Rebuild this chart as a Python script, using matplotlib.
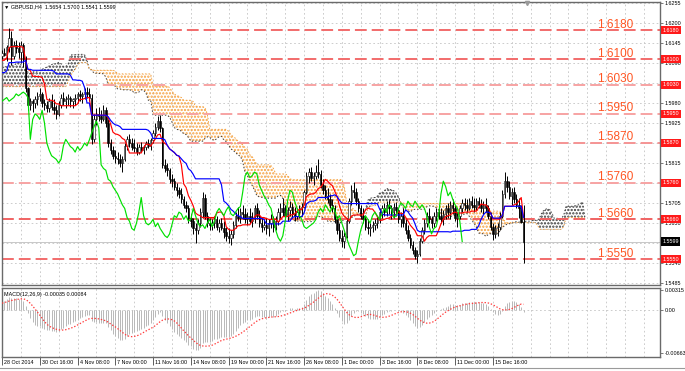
import numpy as np
import pandas as pd
import matplotlib

matplotlib.use("Agg")
import matplotlib.pyplot as plt
from matplotlib.transforms import blended_transform_factory

W, H, DPI = 685, 371, 100
plt.rcParams["lines.scale_dashes"] = False
plt.rcParams["hatch.linewidth"] = 1.1

# GBPUSD H4, 15-27 Oct 2014 (52 bars before the visible window, only feeds the indicators)
PRE_HIGH = [1.5960, 1.5935, 1.5910, 1.5945, 1.5975, 1.5985, 1.6010, 1.6030, 1.6045, 1.6050,
            1.6060, 1.6055, 1.6075, 1.6090, 1.6105, 1.6095, 1.6110, 1.6120, 1.6115, 1.6130,
            1.6145, 1.6135, 1.6150, 1.6165, 1.6175, 1.6185, 1.6160, 1.6130, 1.6105, 1.6080,
            1.6060, 1.6045, 1.6030, 1.6045, 1.6055, 1.6040, 1.6035, 1.6050, 1.6065, 1.6080,
            1.6090, 1.6075, 1.6095, 1.6110, 1.6120, 1.6105, 1.6100, 1.6115, 1.6130, 1.6120,
            1.6125, 1.6115]
PRE_LOW = [1.5920, 1.5880, 1.5865, 1.5890, 1.5925, 1.5945, 1.5960, 1.5985, 1.6005, 1.6010,
           1.6020, 1.6015, 1.6035, 1.6050, 1.6060, 1.6045, 1.6070, 1.6080, 1.6075, 1.6090,
           1.6100, 1.6095, 1.6110, 1.6125, 1.6135, 1.6140, 1.6110, 1.6085, 1.6060, 1.6035,
           1.6020, 1.6005, 1.5997, 1.6005, 1.6015, 1.6000, 1.6000, 1.6015, 1.6025, 1.6040,
           1.6050, 1.6040, 1.6055, 1.6070, 1.6080, 1.6065, 1.6068, 1.6080, 1.6090, 1.6085,
           1.6090, 1.6085]
PRE_CLOSE = [1.5930, 1.5890, 1.5900, 1.5935, 1.5960, 1.5970, 1.6000, 1.6020, 1.6030, 1.6040,
             1.6035, 1.6045, 1.6065, 1.6080, 1.6070, 1.6085, 1.6100, 1.6095, 1.6105, 1.6120,
             1.6110, 1.6125, 1.6140, 1.6155, 1.6160, 1.6150, 1.6120, 1.6095, 1.6070, 1.6045,
             1.6030, 1.6015, 1.6020, 1.6035, 1.6025, 1.6010, 1.6025, 1.6040, 1.6055, 1.6070,
             1.6060, 1.6065, 1.6085, 1.6100, 1.6090, 1.6080, 1.6090, 1.6105, 1.6100, 1.6110,
             1.6100, 1.6110]

# visible bars, 28 Oct 2014 00:00 onwards
HIGH = [1.6125, 1.6130, 1.6140, 1.6185, 1.6178, 1.6150, 1.6152, 1.6148, 1.6150, 1.6145,
        1.6110, 1.6025, 1.5995, 1.5990, 1.6000, 1.6010, 1.6020, 1.6010, 1.5990, 1.5985,
        1.5995, 1.6005, 1.5990, 1.5975, 1.5985, 1.6005, 1.6010, 1.6000, 1.6005, 1.6000,
        1.5995, 1.6005, 1.6010, 1.6015, 1.6010, 1.6020, 1.6025, 1.6020, 1.6005, 1.5950,
        1.5965, 1.5970, 1.5960, 1.5975, 1.5968, 1.5935, 1.5880, 1.5862, 1.5850, 1.5845,
        1.5840, 1.5835, 1.5870, 1.5890, 1.5895, 1.5885, 1.5880, 1.5870, 1.5868, 1.5872,
        1.5865, 1.5875, 1.5880, 1.5885, 1.5905, 1.5925, 1.5945, 1.5948, 1.5915, 1.5825,
        1.5815, 1.5800, 1.5785, 1.5775, 1.5760, 1.5750, 1.5745, 1.5725, 1.5710, 1.5700,
        1.5675, 1.5665, 1.5650, 1.5660, 1.5690, 1.5735, 1.5730, 1.5680, 1.5665, 1.5660,
        1.5670, 1.5668, 1.5660, 1.5665, 1.5655, 1.5640, 1.5635, 1.5630, 1.5655, 1.5680,
        1.5695, 1.5690, 1.5700, 1.5690, 1.5680, 1.5690, 1.5680, 1.5700, 1.5705, 1.5685,
        1.5665, 1.5660, 1.5665, 1.5660, 1.5675, 1.5670, 1.5668, 1.5690, 1.5705, 1.5720,
        1.5700, 1.5695, 1.5710, 1.5705, 1.5695, 1.5690, 1.5700, 1.5705, 1.5740, 1.5790,
        1.5800, 1.5805, 1.5790, 1.5810, 1.5825, 1.5795, 1.5770, 1.5755, 1.5745, 1.5730,
        1.5715, 1.5700, 1.5670, 1.5650, 1.5630, 1.5625, 1.5665, 1.5720, 1.5755, 1.5762,
        1.5745, 1.5720, 1.5700, 1.5690, 1.5670, 1.5660, 1.5650, 1.5655, 1.5660, 1.5670,
        1.5690, 1.5700, 1.5705, 1.5710, 1.5712, 1.5700, 1.5705, 1.5708, 1.5690, 1.5680,
        1.5690, 1.5660, 1.5645, 1.5620, 1.5600, 1.5585, 1.5575, 1.5610, 1.5640, 1.5660,
        1.5680, 1.5690, 1.5670, 1.5680, 1.5690, 1.5700, 1.5690, 1.5685, 1.5700, 1.5705,
        1.5710, 1.5715, 1.5700, 1.5680, 1.5700, 1.5715, 1.5720, 1.5715, 1.5720, 1.5725,
        1.5718, 1.5720, 1.5722, 1.5715, 1.5710, 1.5718, 1.5700, 1.5680, 1.5650, 1.5645,
        1.5650, 1.5680, 1.5740, 1.5790, 1.5780, 1.5765, 1.5745, 1.5750, 1.5730, 1.5720,
        1.5700, 1.5700]
LOW = [1.6100, 1.6108, 1.6095, 1.6120, 1.6085, 1.6100, 1.6118, 1.6105, 1.6090, 1.6080,
       1.6010, 1.5960, 1.5960, 1.5955, 1.5965, 1.5975, 1.5985, 1.5970, 1.5960, 1.5955,
       1.5955, 1.5960, 1.5950, 1.5935, 1.5945, 1.5965, 1.5975, 1.5965, 1.5975, 1.5970,
       1.5965, 1.5975, 1.5980, 1.5985, 1.5980, 1.5990, 1.5995, 1.5985, 1.5868, 1.5872,
       1.5920, 1.5930, 1.5925, 1.5930, 1.5915, 1.5860, 1.5840, 1.5825, 1.5815, 1.5812,
       1.5805, 1.5790, 1.5820, 1.5850, 1.5860, 1.5850, 1.5845, 1.5838, 1.5840, 1.5845,
       1.5840, 1.5850, 1.5855, 1.5850, 1.5870, 1.5890, 1.5905, 1.5900, 1.5800, 1.5790,
       1.5780, 1.5760, 1.5750, 1.5740, 1.5725, 1.5720, 1.5705, 1.5690, 1.5680, 1.5650,
       1.5640, 1.5620, 1.5595, 1.5620, 1.5640, 1.5665, 1.5660, 1.5640, 1.5630, 1.5630,
       1.5635, 1.5630, 1.5625, 1.5630, 1.5610, 1.5600, 1.5595, 1.5590, 1.5610, 1.5635,
       1.5655, 1.5650, 1.5660, 1.5650, 1.5645, 1.5650, 1.5640, 1.5650, 1.5660, 1.5640,
       1.5625, 1.5630, 1.5620, 1.5615, 1.5635, 1.5625, 1.5630, 1.5645, 1.5665, 1.5670,
       1.5660, 1.5655, 1.5670, 1.5665, 1.5655, 1.5660, 1.5665, 1.5670, 1.5690, 1.5730,
       1.5760, 1.5765, 1.5755, 1.5770, 1.5775, 1.5745, 1.5730, 1.5715, 1.5705, 1.5690,
       1.5680, 1.5650, 1.5620, 1.5600, 1.5585, 1.5582, 1.5610, 1.5650, 1.5700, 1.5720,
       1.5700, 1.5680, 1.5660, 1.5650, 1.5630, 1.5620, 1.5615, 1.5625, 1.5630, 1.5635,
       1.5650, 1.5665, 1.5670, 1.5670, 1.5675, 1.5660, 1.5665, 1.5670, 1.5650, 1.5640,
       1.5640, 1.5620, 1.5600, 1.5580, 1.5565, 1.5550, 1.5540, 1.5560, 1.5595, 1.5620,
       1.5640, 1.5650, 1.5635, 1.5640, 1.5655, 1.5660, 1.5650, 1.5645, 1.5660, 1.5665,
       1.5660, 1.5675, 1.5655, 1.5640, 1.5660, 1.5680, 1.5685, 1.5680, 1.5685, 1.5690,
       1.5680, 1.5685, 1.5690, 1.5680, 1.5675, 1.5680, 1.5660, 1.5630, 1.5602, 1.5610,
       1.5615, 1.5630, 1.5665, 1.5720, 1.5735, 1.5715, 1.5700, 1.5705, 1.5690, 1.5665,
       1.5650, 1.5541]
CLOSE = [1.6118, 1.6112, 1.6135, 1.6160, 1.6110, 1.6140, 1.6130, 1.6120, 1.6140, 1.6100,
         1.6020, 1.5975, 1.5985, 1.5980, 1.5990, 1.6000, 1.6005, 1.5980, 1.5975, 1.5965,
         1.5985, 1.5970, 1.5960, 1.5950, 1.5975, 1.5995, 1.5985, 1.5990, 1.5995, 1.5985,
         1.5990, 1.5995, 1.6005, 1.6000, 1.6005, 1.6010, 1.6005, 1.5995, 1.5880, 1.5935,
         1.5950, 1.5945, 1.5935, 1.5960, 1.5925, 1.5870, 1.5850, 1.5835, 1.5830, 1.5825,
         1.5815, 1.5825, 1.5862, 1.5880, 1.5870, 1.5860, 1.5855, 1.5845, 1.5860, 1.5850,
         1.5858, 1.5870, 1.5862, 1.5878, 1.5898, 1.5915, 1.5930, 1.5912, 1.5810, 1.5800,
         1.5795, 1.5770, 1.5765, 1.5750, 1.5740, 1.5730, 1.5715, 1.5700, 1.5690, 1.5665,
         1.5655, 1.5635, 1.5630, 1.5650, 1.5680, 1.5720, 1.5670, 1.5650, 1.5645, 1.5650,
         1.5660, 1.5640, 1.5650, 1.5635, 1.5625, 1.5615, 1.5610, 1.5620, 1.5645, 1.5670,
         1.5665, 1.5680, 1.5675, 1.5660, 1.5670, 1.5655, 1.5660, 1.5690, 1.5670, 1.5650,
         1.5640, 1.5645, 1.5635, 1.5650, 1.5660, 1.5640, 1.5655, 1.5680, 1.5690, 1.5680,
         1.5670, 1.5685, 1.5695, 1.5675, 1.5670, 1.5680, 1.5690, 1.5695, 1.5735, 1.5780,
         1.5790, 1.5775, 1.5780, 1.5790, 1.5785, 1.5755, 1.5740, 1.5725, 1.5715, 1.5700,
         1.5690, 1.5660, 1.5630, 1.5610, 1.5600, 1.5615, 1.5655, 1.5710, 1.5740, 1.5735,
         1.5710, 1.5690, 1.5670, 1.5660, 1.5640, 1.5635, 1.5640, 1.5645, 1.5650, 1.5660,
         1.5680, 1.5690, 1.5680, 1.5700, 1.5690, 1.5680, 1.5695, 1.5685, 1.5660, 1.5670,
         1.5650, 1.5630, 1.5610, 1.5590, 1.5575, 1.5560, 1.5565, 1.5600, 1.5630, 1.5650,
         1.5670, 1.5660, 1.5650, 1.5670, 1.5680, 1.5670, 1.5660, 1.5675, 1.5690, 1.5680,
         1.5700, 1.5690, 1.5665, 1.5670, 1.5690, 1.5705, 1.5700, 1.5690, 1.5710, 1.5700,
         1.5695, 1.5710, 1.5700, 1.5690, 1.5700, 1.5690, 1.5670, 1.5640, 1.5620, 1.5635,
         1.5640, 1.5670, 1.5730, 1.5765, 1.5750, 1.5725, 1.5735, 1.5715, 1.5700, 1.5690,
         1.5654, 1.5599]

LEVELS = [1.6180, 1.6100, 1.6030, 1.5950, 1.5870, 1.5760, 1.5660, 1.5550]
LEVEL_COLORS = ["#f26b6b", "#f26b6b", "#f7a3a3", "#f7a3a3", "#f59494", "#f7a3a3", "#f06262", "#f26b6b"]
# right-scale ticks; those fully covered by a level box are drawn as ticks only
PRICE_TICKS = [1.6255, 1.6200, 1.6145, 1.6090, 1.6035, 1.5980, 1.5925, 1.5870,
               1.5815, 1.5760, 1.5705, 1.5650, 1.5595, 1.5540, 1.5485]
HIDDEN_TICKS = [1.6035, 1.5870, 1.5760, 1.5595]
DATE_BARS = [0, 16, 32, 48, 64, 80, 96, 112, 128, 144, 160, 176, 192, 208]
DATE_LABELS = ["28 Oct 2014", "30 Oct 16:00", "4 Nov 08:00", "7 Nov 00:00", "11 Nov 16:00",
               "14 Nov 08:00", "19 Nov 00:00", "21 Nov 16:00", "26 Nov 08:00", "1 Dec 00:00",
               "3 Dec 16:00", "8 Dec 08:00", "11 Dec 00:00", "15 Dec 16:00"]
MACD_TICKS = [0.00315, 0.0, -0.00663]
MACD_TICK_LABELS = ["0.00315", "0.00", "-0.00663"]
LAST_PRICE = 1.5599
TITLE = "\u25bc GBPUSD,H4  1.5654 1.5700 1.5541 1.5599"
MACD_TITLE = "MACD(12,26,9) -0.00035 0.00084"

assert len(HIGH) == len(LOW) == len(CLOSE)
assert len(PRE_HIGH) == len(PRE_LOW) == len(PRE_CLOSE)

SMALL = ["Liberation Sans", "DejaVu Sans"]
SMALL_SIZE = 3.9
GRID = dict(color="#c4c4c4", lw=0.6, ls=(0, (1.2, 1.8)), zorder=0.5)

# indicators (Ichimoku 9/26/52, MACD 12/26/9) from the full series
n_pre = len(PRE_CLOSE)
hi = pd.Series(PRE_HIGH + HIGH)
lo = pd.Series(PRE_LOW + LOW)
cl = pd.Series(PRE_CLOSE + CLOSE)
bar_all = np.arange(len(cl)) - n_pre


def midpoint(n):
    return (hi.rolling(n, min_periods=1).max() + lo.rolling(n, min_periods=1).min()) / 2


tenkan = midpoint(9)
kijun = midpoint(26)
span_a = ((tenkan + kijun) / 2).to_numpy()
span_b = midpoint(52).to_numpy()
macd = cl.ewm(span=12, adjust=False).mean() - cl.ewm(span=26, adjust=False).mean()
signal = macd.rolling(9, min_periods=1).mean()

vis = bar_all >= 0
x = bar_all[vis]
high = np.array(HIGH)
low = np.array(LOW)
close = np.array(CLOSE)
opens = np.r_[PRE_CLOSE[-1], close[:-1]]

fig = plt.figure(figsize=(W / DPI, H / DPI), dpi=DPI, facecolor="white")


def px_box(x0, y0, x1, y1):
    return [x0 / W, 1 - y1 / H, (x1 - x0) / W, (y1 - y0) / H]


ax = fig.add_axes(px_box(1.5, 2, 660, 285))
axm = fig.add_axes(px_box(1.5, 287.5, 660, 357))
XLIM = ((1.5 - 2) / 2.36, (660 - 2) / 2.36)
for a in (ax, axm):
    a.set_xlim(*XLIM)
    for s in a.spines.values():
        s.set_color("#6a6a6a")
        s.set_linewidth(1.0)
ax.set_ylim(1.6255 - 282 * 0.000275, 1.6255 + 0.000275)
axm.set_ylim(0.00315 - 67 * 0.0001552, 0.00315 + 2.5 * 0.0001552)

# grid
grid_bars = np.arange(0, 280, 8)
for a in (ax, axm):
    for g in grid_bars:
        a.axvline(g, **GRID)
for p in PRICE_TICKS:
    ax.axhline(p, **GRID)
axm.axhline(0.0, **GRID)

# cloud
xs = bar_all + 26
a_ge = span_a >= span_b
ax.fill_between(xs, span_a, span_b, where=a_ge, interpolate=True, facecolor="none",
                edgecolor="#3a3a3a", hatch=".....", linewidth=0, zorder=1)
ax.fill_between(xs, span_a, span_b, where=~a_ge, interpolate=True, facecolor="none",
                edgecolor="#f5a03c", hatch=".....", linewidth=0, zorder=1)
ax.plot(xs, span_a, color="#3a3a3a", lw=0.7, ls=(0, (1, 1.4)), zorder=1.2)
ax.plot(xs, span_b, color="#f5a03c", lw=0.7, ls=(0, (1, 1.4)), zorder=1.2)

# levels
for lvl, c in zip(LEVELS, LEVEL_COLORS):
    ax.axhline(lvl, color=c, lw=1.4, dashes=(8.5, 3.6), zorder=2)
    ax.text(252.2, lvl + 2.5 * 0.000275, f"{lvl:.4f}", color="#ff5522", fontsize=8.5,
            family=["Liberation Sans", "DejaVu Sans"], ha="left", va="baseline", zorder=7)
ax.axhline(LAST_PRICE, color="#c8c8c8", lw=0.7, zorder=1.5)

# candles
up = close >= opens
body_lo = np.minimum(opens, close)
body_h = np.maximum(np.abs(close - opens), 0.00004)
ax.vlines(x, low, high, color="black", lw=0.7, zorder=4)
ax.bar(x[~up], body_h[~up], bottom=body_lo[~up], width=0.62, color="black",
       edgecolor="black", lw=0.4, zorder=5)
ax.bar(x[up], body_h[up], bottom=body_lo[up], width=0.62, color="white",
       edgecolor="black", lw=0.4, zorder=5)

# ichimoku lines
ax.plot(x, tenkan[vis], color="#ff0000", lw=0.85, zorder=6)
ax.plot(x, kijun[vis], color="#0000ff", lw=0.85, zorder=6)
ax.plot(x - 26, close, color="#00e000", lw=0.85, zorder=6)

# right price scale
ax.yaxis.tick_right()
ax.set_yticks(PRICE_TICKS)
ax.set_yticklabels(["" if p in HIDDEN_TICKS else f"{p:.4f}" for p in PRICE_TICKS], family=SMALL)
ax.tick_params(axis="y", length=2, width=0.5, pad=1.5, labelsize=SMALL_SIZE, color="#444444")
ax.set_xticks([])
right = blended_transform_factory(ax.transAxes, ax.transData)
for lvl in LEVELS:
    ax.text(1.0035, lvl, f"{lvl:.4f}", transform=right, fontsize=SMALL_SIZE, family=SMALL,
            color="white", ha="left", va="center", clip_on=False, zorder=8,
            bbox=dict(boxstyle="square,pad=0.3", fc="#ff1a1a", ec="none"))
ax.text(1.0035, LAST_PRICE, f"{LAST_PRICE:.4f}", transform=right, fontsize=SMALL_SIZE,
        family=SMALL, color="white", ha="left", va="center", clip_on=False, zorder=8,
        bbox=dict(boxstyle="square,pad=0.3", fc="black", ec="none"))
ax.plot([222.5], [1.6255 + 0.00005], marker="v", ms=3, color="#9a9a9a", clip_on=False, zorder=8)
ax.text(0.004, 0.982, TITLE, transform=ax.transAxes, fontsize=SMALL_SIZE, family=SMALL,
        ha="left", va="center", zorder=8)

# MACD
axm.vlines(x, 0, macd[vis], color="#b8b8b8", lw=0.7, zorder=2)
axm.plot(x, signal[vis], color="#ff3c3c", lw=0.9, ls=(0, (1, 1.3)), zorder=3)
axm.text(0.004, 0.9, MACD_TITLE, transform=axm.transAxes, fontsize=SMALL_SIZE, family=SMALL,
         ha="left", va="center", zorder=8)
axm.yaxis.tick_right()
axm.set_yticks(MACD_TICKS)
axm.set_yticklabels(MACD_TICK_LABELS, family=SMALL)
axm.tick_params(axis="y", length=2, width=0.5, pad=1.5, labelsize=SMALL_SIZE, color="#444444")
axm.set_xticks(DATE_BARS)
axm.set_xticklabels([])
axm.tick_params(axis="x", length=5.5, width=0.6, direction="out", color="#444444")
bottom = blended_transform_factory(axm.transData, axm.transAxes)
for b, lab in zip(DATE_BARS, DATE_LABELS):
    axm.text(b + 0.9, -0.075, lab, transform=bottom, fontsize=SMALL_SIZE, family=SMALL,
             ha="left", va="center", clip_on=False)

fig.add_artist(plt.Line2D([0, 1], [1 - 368 / H, 1 - 368 / H], color="#9a9a9a", lw=0.8))

fig.savefig("out.png", dpi=DPI, facecolor="white")
